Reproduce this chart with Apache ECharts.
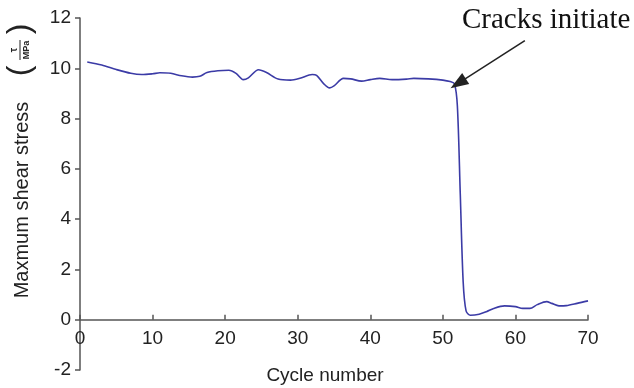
<!DOCTYPE html>
<html>
<head>
<meta charset="utf-8">
<script src="https://cdn.jsdelivr.net/npm/echarts@6/dist/echarts.min.js"></script>
<style>
  html, body { margin: 0; padding: 0; background: #fff; }
  #chart { width: 634px; height: 388px; }
</style>
</head>
<body>
<div id="chart"></div>
<script>
// Cycle numbers and measured maximum shear stress (MPa)
const cycles = [1, 3, 5, 7, 8.5, 10, 11, 12.5, 14, 15.5, 16.5, 17.5, 19, 20.5, 21.5, 22.5, 23.2, 24.6, 25.7, 27.3, 29, 30.3, 32, 32.6, 33.6, 34.4, 35, 36.3, 37.3, 38.8, 40, 41.3, 43, 45, 46, 48, 50, 51, 51.6, 52, 52.4, 52.8, 53.2, 53.8, 55, 56, 57, 58.5, 60, 61, 62, 63, 64.3, 65, 66, 67, 68.5, 70];
const stress = [10.25, 10.13, 9.95, 9.8, 9.75, 9.78, 9.82, 9.8, 9.7, 9.65, 9.68, 9.83, 9.9, 9.92, 9.8, 9.55, 9.62, 9.94, 9.83, 9.57, 9.53, 9.6, 9.75, 9.72, 9.38, 9.22, 9.3, 9.6, 9.58, 9.49, 9.55, 9.6, 9.55, 9.57, 9.6, 9.58, 9.53, 9.47, 9.38, 8.5, 5.0, 1.5, 0.35, 0.18, 0.22, 0.32, 0.45, 0.55, 0.52, 0.45, 0.45, 0.6, 0.72, 0.65, 0.55, 0.56, 0.65, 0.75];

// Axis ranges and steps
const xRange = [0, 70], xStep = 10;
const yRange = [-2, 12], yStep = 2;

// Annotation arrow: from the label down to the point where cracks start
const arrowFrom = [61.3, 11.1];
const arrowTo = [52.1, 9.4];
const annotationText = 'Cracks initiate';

const points = cycles.map((c, i) => [c, stress[i]]);

const chart = echarts.init(document.getElementById('chart'), null, { renderer: 'canvas' });

const axisColor = '#555';
const sans = '"Liberation Sans", Arial, sans-serif';
const labelFont = { color: '#222', fontSize: 19, fontFamily: sans };

chart.setOption({
  backgroundColor: '#fff',
  animation: false,
  grid: { left: 80, right: 46, top: 18, bottom: 18, containLabel: false, outerBoundsMode: 'none' },
  xAxis: {
    type: 'value',
    min: xRange[0], max: xRange[1], interval: xStep,
    axisLine: { onZero: true, lineStyle: { color: axisColor, width: 1.5 } },
    axisTick: { inside: true, length: 5, lineStyle: { color: axisColor, width: 1.5 } },
    // labels sit just under the zero line rather than at the bottom of the plot
    axisLabel: Object.assign({ margin: -41 }, labelFont),
    splitLine: { show: false }
  },
  yAxis: {
    type: 'value',
    min: yRange[0], max: yRange[1], interval: yStep,
    axisLine: { show: true, onZero: false, lineStyle: { color: axisColor, width: 1.5 } },
    axisTick: { show: true, inside: false, length: 5, lineStyle: { color: axisColor, width: 1.5 } },
    axisLabel: Object.assign({ margin: 9 }, labelFont),
    splitLine: { show: false }
  },
  series: [{
    type: 'line',
    data: points,
    smooth: 0.3,
    showSymbol: false,
    lineStyle: { color: '#3b3ba6', width: 1.6 },
    markLine: {
      silent: true,
      symbol: ['none', 'triangle'],
      symbolSize: [13, 18],
      label: { show: false },
      lineStyle: { color: '#222', width: 1.5, type: 'solid' },
      itemStyle: { color: '#111' },
      data: [[{ coord: arrowFrom }, { coord: arrowTo }]]
    }
  }],
  graphic: [
    {
      type: 'text', left: 462, top: 6,
      style: { text: annotationText, font: '29px "Liberation Serif", "Times New Roman", serif', fill: '#111' }
    },
    {
      type: 'text', x: 325, y: 376,
      style: { text: 'Cycle number', align: 'center', verticalAlign: 'middle', font: '19px ' + sans, fill: '#222' }
    },
    {
      type: 'text', x: 22, y: 200, rotation: Math.PI / 2,
      style: { text: 'Maxmum shear stress', align: 'center', verticalAlign: 'middle', font: '20px ' + sans, fill: '#222' }
    },
    {
      type: 'group', x: 20, y: 50, rotation: Math.PI / 2,
      children: [
        { type: 'text', x: -21, y: 0, style: { text: '(', align: 'center', verticalAlign: 'middle', font: '32px ' + sans, fill: '#222' } },
        { type: 'text', x: 21, y: 0, style: { text: ')', align: 'center', verticalAlign: 'middle', font: '32px ' + sans, fill: '#222' } },
        { type: 'text', x: 0, y: -6, style: { text: 'τ', align: 'center', verticalAlign: 'middle', font: 'bold 10px ' + sans, fill: '#222' } },
        { type: 'line', shape: { x1: -10, y1: 0, x2: 10, y2: 0 }, style: { stroke: '#222', lineWidth: 1 } },
        { type: 'text', x: 0, y: 6.5, style: { text: 'MPa', align: 'center', verticalAlign: 'middle', font: 'bold 9px ' + sans, fill: '#222' } }
      ]
    }
  ]
});
</script>
</body>
</html>
